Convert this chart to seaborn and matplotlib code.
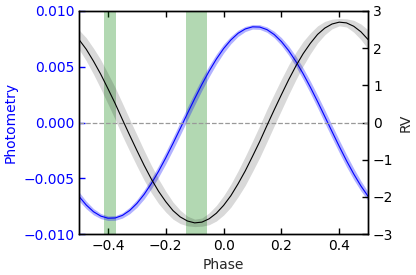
import numpy as np
import matplotlib
matplotlib.use("Agg")
import matplotlib.pyplot as plt
import seaborn as sns

# ==============================
# Data
# ==============================

phase = [-0.500, -0.475, -0.450, -0.425, -0.400, -0.375, -0.350, -0.325, -0.300, -0.275,
         -0.250, -0.225, -0.200, -0.175, -0.150, -0.125, -0.100, -0.075, -0.050, -0.025,
         0.000, 0.025, 0.050, 0.075, 0.100, 0.125, 0.150, 0.175, 0.200, 0.225,
         0.250, 0.275, 0.300, 0.325, 0.350, 0.375, 0.400, 0.425, 0.450, 0.475, 0.500]

# photometry model (blue), units of flux
phot = [-0.00663, -0.00740, -0.00800, -0.00839, -0.00858, -0.00856, -0.00833, -0.00789, -0.00726, -0.00645,
        -0.00548, -0.00438, -0.00317, -0.00188, -0.00054, 0.00081, 0.00214, 0.00342, 0.00461, 0.00569,
        0.00663, 0.00740, 0.00800, 0.00839, 0.00858, 0.00856, 0.00833, 0.00789, 0.00726, 0.00645,
        0.00548, 0.00438, 0.00317, 0.00188, 0.00054, -0.00081, -0.00214, -0.00342, -0.00461, -0.00569,
        -0.00663]
phot_err = [0.00040, 0.00034, 0.00028, 0.00023, 0.00020, 0.00021, 0.00024, 0.00029, 0.00035, 0.00041,
            0.00046, 0.00051, 0.00054, 0.00056, 0.00058, 0.00057, 0.00056, 0.00054, 0.00050, 0.00045,
            0.00040, 0.00034, 0.00028, 0.00023, 0.00020, 0.00021, 0.00024, 0.00029, 0.00035, 0.00041,
            0.00046, 0.00051, 0.00054, 0.00056, 0.00058, 0.00057, 0.00056, 0.00054, 0.00050, 0.00045,
            0.00040]

# RV model (black)
rv = [2.23, 1.97, 1.65, 1.30, 0.91, 0.51, 0.08, -0.34, -0.75, -1.15,
      -1.52, -1.85, -2.13, -2.37, -2.54, -2.65, -2.70, -2.68, -2.59, -2.44,
      -2.23, -1.97, -1.65, -1.30, -0.91, -0.51, -0.08, 0.34, 0.75, 1.15,
      1.52, 1.85, 2.13, 2.37, 2.54, 2.65, 2.70, 2.68, 2.59, 2.44,
      2.23]
rv_err = [0.26, 0.31, 0.35, 0.39, 0.41, 0.43, 0.44, 0.43, 0.42, 0.40,
          0.37, 0.33, 0.28, 0.23, 0.18, 0.13, 0.10, 0.11, 0.16, 0.21,
          0.26, 0.31, 0.35, 0.39, 0.41, 0.43, 0.44, 0.43, 0.42, 0.40,
          0.37, 0.33, 0.28, 0.23, 0.18, 0.13, 0.10, 0.11, 0.16, 0.21,
          0.26]

# observing windows (green)
windows = [(-0.413, -0.372), (-0.130, -0.057)]

# ==============================
# Plot
# ==============================

sns.set_style("ticks")
plt.rcParams['font.family'] = ['DejaVu Sans']
plt.rcParams['font.size'] = 10

fig = plt.figure(figsize=(4.16, 2.75), dpi=100)
ax1 = fig.add_axes([0.19, 0.149, 0.695, 0.811])
ax2 = ax1.twinx()

phase = np.array(phase)
phot = np.array(phot)
phot_err = np.array(phot_err)
rv = np.array(rv)
rv_err = np.array(rv_err)

for lo, hi in windows:
    ax1.axvspan(lo, hi, color='g', alpha=0.3, lw=0)

ax1.fill_between(phase, phot - phot_err, phot + phot_err, color='b', alpha=0.3, lw=0)
sns.lineplot(x=phase, y=phot, ax=ax1, color='b', lw=0.8)

ax2.axhline(0, color='0.6', ls='--', lw=0.9)
ax2.fill_between(phase, rv - rv_err, rv + rv_err, color='k', alpha=0.15, lw=0)
sns.lineplot(x=phase, y=rv, ax=ax2, color='k', lw=0.8)

ax1.set_xlim(-0.5, 0.5)
ax1.set_ylim(-0.01, 0.01)
ax2.set_ylim(-3, 3)

ax1.set_xticks([-0.4, -0.2, 0.0, 0.2, 0.4])
ax1.set_yticks([-0.010, -0.005, 0.000, 0.005, 0.010])
ax1.set_yticklabels(['\u22120.010', '\u22120.005', '0.000', '0.005', '0.010'])
ax2.set_yticks([-3, -2, -1, 0, 1, 2, 3])

ax1.set_xlabel('Phase')
ax1.set_ylabel('Photometry', color='b')
ax2.set_ylabel('RV')

ax1.tick_params(axis='x', direction='in', top=True, length=4, width=1, colors='k')
ax1.tick_params(axis='y', direction='in', length=4, width=1, colors='b')
ax2.tick_params(axis='y', direction='in', length=4, width=1, colors='k')

for ax in (ax1, ax2):
    for s in ax.spines.values():
        s.set_color('k')
        s.set_linewidth(1)

fig.savefig('out.png', dpi=100)
